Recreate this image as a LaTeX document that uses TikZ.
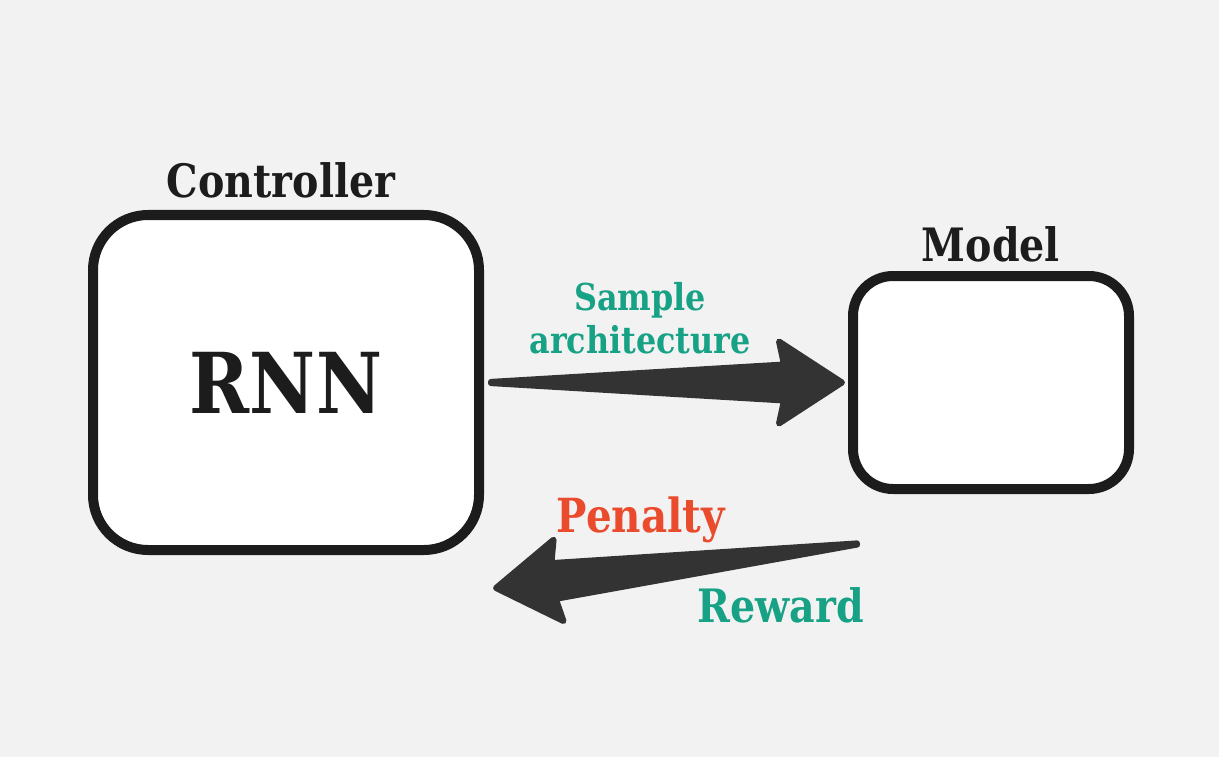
\documentclass[tikz,border=0pt]{standalone}
\usepackage{fontspec}
\setmainfont{DejaVu Serif}[FakeStretch=0.86]
\usetikzlibrary{positioning, calc}

\definecolor{bgcol}{HTML}{F2F2F2}
\definecolor{inkcol}{HTML}{1C1C1C}
\definecolor{arrowcol}{HTML}{333333}
\definecolor{tealcol}{HTML}{17A185}
\definecolor{redcol}{HTML}{EA4B2C}

\tikzset{
    box/.style={draw=inkcol, fill=white, line width=10pt, rectangle},
    lbl/.style={inner sep=0pt, font=\bfseries\fontsize{#1}{#1}\selectfont},
    lbl/.default=40,
}

% dicker Pfeil von #1 nach #2
\newcommand\fatarrow[2]{%
    \coordinate (hb) at ($(#2)!58pt!(#1)$);
    \coordinate (bb) at ($(#2)!63pt!(#1)$);
    \fill[arrowcol, draw=arrowcol, line width=6pt, line join=round, line cap=round]
        ($(#1)!0.6pt!90:(#2)$) -- ($(hb)!18pt!-90:(#1)$) -- ($(bb)!41pt!-90:(#1)$)
        -- (#2) -- ($(bb)!41pt!90:(#1)$) -- ($(hb)!18pt!90:(#1)$)
        -- ($(#1)!0.6pt!-90:(#2)$) -- cycle;
}

\begin{document}
\begin{tikzpicture}[x=1pt, y=-1pt]
    \fill[bgcol] (0,0) rectangle (1219,757);

    % Kästen
    \node[box, minimum width=386pt, minimum height=335pt, rounded corners=55pt,
          text=inkcol, lbl=84]                       (ctrl)  at (286,382.5) {RNN};
    \node[box, minimum width=276pt, minimum height=213pt, rounded corners=40pt]
                                                     (model) at (991,382.5) {};

    \node[lbl=46, text=inkcol, above=12pt of ctrl, xshift=-5pt]  (ctrl label)  {Controller};
    \node[lbl=46, text=inkcol, above=9pt of model]               (model label) {Model};

    % Pfeile
    \coordinate (outtail) at ([xshift=7pt]ctrl.east);
    \coordinate (outtip)  at ([xshift=-6pt]model.west);
    \coordinate (backtail) at (857,544);
    \coordinate (backtip)  at (496,588);
    \fatarrow{outtail}{outtip}
    \fatarrow{backtail}{backtip}

    \node[lbl=37, text=tealcol, align=center] (sample) at (640,318) {Sample\\[6pt]architecture};
    \node[lbl=47, text=redcol]  (penalty) at (641,520) {Penalty};
    \node[lbl=46, text=tealcol] (reward)  at (781,605) {Reward};
\end{tikzpicture}
\end{document}
